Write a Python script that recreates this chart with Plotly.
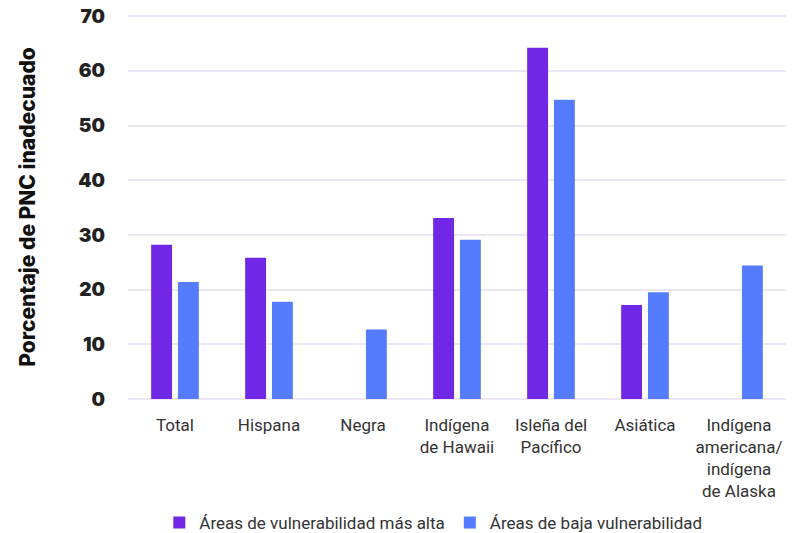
import plotly.graph_objects as go

categories = ["Total", "Hispana", "Negra", "Indígena<br>de Hawaii", "Isleña del<br>Pacífico",
              "Asiática", "Indígena<br>americana/<br>indígena<br>de Alaska"]
high_vuln = [28.2, 25.8, None, 33.1, 64.2, 17.2, None]
low_vuln = [21.4, 17.8, 12.7, 29.1, 54.7, 19.5, 24.4]
series_names = ["Áreas de vulnerabilidad más alta", "Áreas de baja vulnerabilidad"]
y_ticks = [0, 10, 20, 30, 40, 50, 60, 70]

fig = go.Figure()
fig.add_trace(go.Bar(x=categories, y=high_vuln, name=series_names[0],
                     marker=dict(color="#7028E6", line=dict(width=0))))
fig.add_trace(go.Bar(x=categories, y=low_vuln, name=series_names[1],
                     marker=dict(color="#557BFE", line=dict(width=0))))

fig.update_layout(
    width=796, height=533,
    margin=dict(l=120, r=18, t=7, b=142),
    paper_bgcolor="white", plot_bgcolor="white",
    barmode="group", bargap=0.43, bargroupgap=0.22,
    showlegend=True,
    legend=dict(orientation="h", x=0.464, xanchor="center", xref="paper",
                y=0.0, yanchor="bottom", yref="container",
                font=dict(family="Roboto", size=17, color="#333333"),
                itemwidth=30, traceorder="normal"),
    xaxis=dict(tickfont=dict(family="Roboto", size=17, color="#333333"),
               showgrid=False, showline=False, ticks="", automargin=False, ticklabelstandoff=14),
    yaxis=dict(range=[0, 70.2], tickvals=y_ticks, showgrid=True, gridcolor="#EDE6F5", gridwidth=2,
               zeroline=True, zerolinecolor="#EDE6F5", zerolinewidth=2, automargin=False,
               ticklabeloverflow="allow",
               tickfont=dict(family="Inter", size=19, color="#222222", weight=900),
               ticks="", ticklabelstandoff=22,
               title=dict(text="Porcentaje de PNC inadecuado",
                          font=dict(family="Inter", size=21, color="#111111", weight=800),
                          standoff=36)),
)
fig.write_html("out.html")
